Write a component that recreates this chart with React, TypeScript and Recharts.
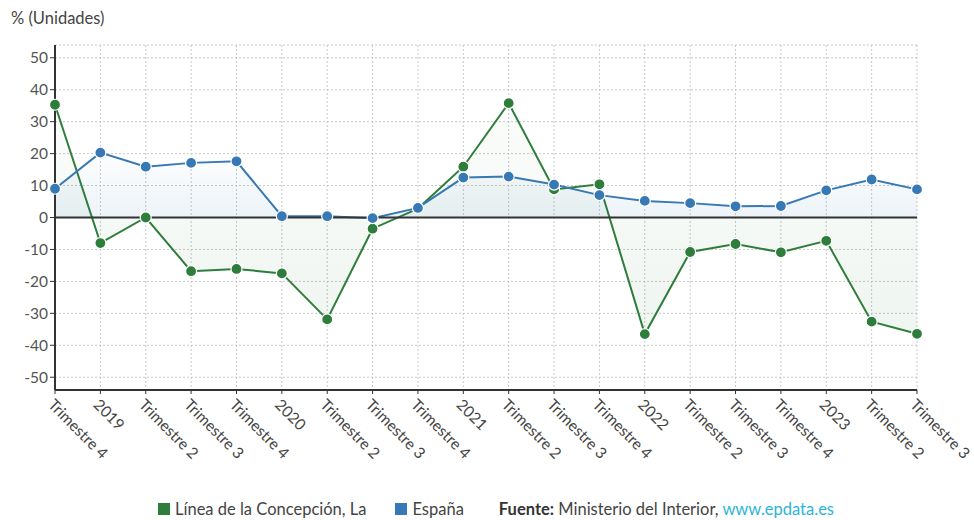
import React from 'react';
import { AreaChart, Area, XAxis, YAxis, CartesianGrid, ReferenceLine, Legend } from 'recharts';

const categories = ['2018T4','2019T1','2019T2','2019T3','2019T4','2020T1','2020T2','2020T3','2020T4','2021T1','2021T2','2021T3','2021T4','2022T1','2022T2','2022T3','2022T4','2023T1','2023T2','2023T3'];
const tickLabels = ['Trimestre 4','2019','Trimestre 2','Trimestre 3','Trimestre 4','2020','Trimestre 2','Trimestre 3','Trimestre 4','2021','Trimestre 2','Trimestre 3','Trimestre 4','2022','Trimestre 2','Trimestre 3','Trimestre 4','2023','Trimestre 2','Trimestre 3'];
const lineaValues = [35.3, -8.0, 0.0, -16.8, -16.1, -17.5, -31.9, -3.5, 2.8, 15.9, 35.8, 8.8, 10.4, -36.5, -10.8, -8.3, -10.9, -7.3, -32.6, -36.4];
const espanaValues = [9.0, 20.3, 15.9, 17.1, 17.6, 0.4, 0.4, -0.2, 3.0, 12.5, 12.8, 10.3, 7.0, 5.2, 4.5, 3.5, 3.6, 8.5, 11.9, 8.8];
const yTicks = [-50, -40, -30, -20, -10, 0, 10, 20, 30, 40, 50];

const GREEN = '#2e7d3b';
const BLUE = '#3679b5';
const FONT = 'Lato, "Noto Sans", sans-serif';

const data = categories.map((c, i) => ({ key: c, idx: i, linea: lineaValues[i], espana: espanaValues[i] }));

const XTick = (props: any) => {
  const { x, y, payload } = props;
  const label = tickLabels[payload.index] ?? '';
  const ax = x - 4;
  const ay = y + 6;
  return (
    <text x={ax} y={ay} dy="0.35em" transform={`rotate(45, ${ax}, ${ay})`} textAnchor="start" fill="#444" fontSize={15.5} fontFamily={FONT}>
      {label}
    </text>
  );
};

const LegendContent = () => (
  <div style={{ height: 40, display: 'flex', alignItems: 'flex-end', justifyContent: 'flex-start', fontFamily: FONT, fontSize: 16.5, color: '#444', paddingLeft: 158 }}>
    <div style={{ display: 'flex', alignItems: 'center', marginBottom: 1 }}>
      <span style={{ display: 'inline-block', width: 12, height: 12, background: GREEN, marginRight: 5 }} />
      <span style={{ marginRight: 29 }}>Línea de la Concepción, La</span>
      <span style={{ display: 'inline-block', width: 12, height: 12, background: BLUE, marginRight: 5 }} />
      <span style={{ marginRight: 35 }}>España</span>
      <span><b style={{ color: '#333' }}>Fuente:</b> Ministerio del Interior, <span style={{ color: '#2bb5d8' }}>www.epdata.es</span></span>
    </div>
  </div>
);

const dotStyle = (color: string) => ({ r: 5.5, fill: color, fillOpacity: 1, stroke: '#fff', strokeWidth: 1.2 });

export default function App() {
  return (
    <div style={{ position: 'absolute', left: 0, top: 0, width: 974, height: 520, background: '#fff' }}>
      <div style={{ position: 'absolute', left: 11, top: 8, fontFamily: FONT, fontSize: 16.5, color: '#444' }}>% (Unidades)</div>
      <AreaChart width={974} height={520} data={data} margin={{ top: 45, right: 57, bottom: 0, left: 0 }}>
        <defs>
          <linearGradient id="gGreen" x1="0" y1="0" x2="0" y2="1">
            <stop offset="0%" stopColor={GREEN} stopOpacity={0.03} />
            <stop offset="100%" stopColor={GREEN} stopOpacity={0.13} />
          </linearGradient>
          <linearGradient id="gBlue" x1="0" y1="0" x2="0" y2="1">
            <stop offset="0%" stopColor={BLUE} stopOpacity={0.02} />
            <stop offset="100%" stopColor={BLUE} stopOpacity={0.15} />
          </linearGradient>
        </defs>
        <CartesianGrid stroke="#c8c8c8" strokeDasharray="2 2" />
        <XAxis dataKey="key" interval={0} height={90} tick={<XTick />} tickLine={{ stroke: '#333' }} tickSize={4} axisLine={{ stroke: '#333', strokeWidth: 2 }} padding={{ left: 0, right: 0 }} />
        <YAxis domain={[-54, 54]} ticks={yTicks} width={55} tickSize={5} tickLine={{ stroke: '#333' }} axisLine={{ stroke: '#333', strokeWidth: 2 }} tick={{ fill: '#555', fontSize: 15.5, fontFamily: FONT }} interval={0} allowDataOverflow />
        <ReferenceLine y={0} stroke="#333" strokeWidth={2} />
        <Area type="linear" dataKey="linea" name="Línea de la Concepción, La" stroke={GREEN} strokeWidth={2} fill="url(#gGreen)" baseValue={0} dot={dotStyle(GREEN)} activeDot={false} isAnimationActive={false} />
        <Area type="linear" dataKey="espana" name="España" stroke={BLUE} strokeWidth={2} fill="url(#gBlue)" baseValue={0} dot={dotStyle(BLUE)} activeDot={false} isAnimationActive={false} />
        <Legend verticalAlign="bottom" height={40} content={<LegendContent />} />
      </AreaChart>
    </div>
  );
}
